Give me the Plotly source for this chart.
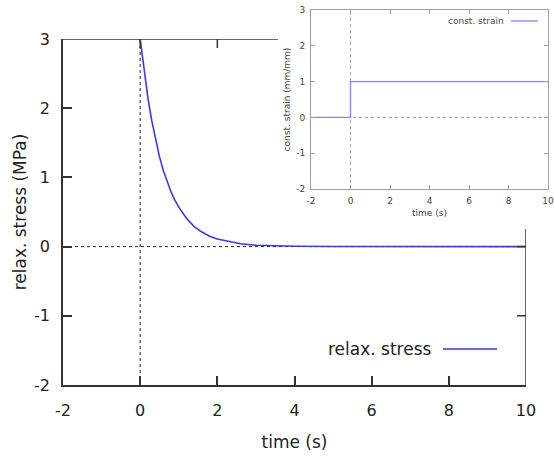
import plotly.graph_objects as go

# ---- data ----
t_stress = [0, 0.1, 0.2, 0.3, 0.4, 0.5, 0.6, 0.7, 0.8, 0.9, 1.0, 1.2, 1.4, 1.6,
            1.8, 2.0, 2.3, 2.6, 3.0, 3.5, 4.0, 5.0, 6.0, 8.0, 10.0]
relax_stress = [3.00, 2.54, 2.15, 1.82, 1.54, 1.30, 1.10, 0.93, 0.79, 0.67, 0.57,
                0.41, 0.29, 0.21, 0.15, 0.11, 0.07, 0.04, 0.02, 0.01, 0.005,
                0.001, 0.0, 0.0, 0.0]
t_strain = [-2, 0, 0, 10]
const_strain = [0, 0, 1, 1]

x_ticks = [-2, 0, 2, 4, 6, 8, 10]
y_ticks = [-2, -1, 0, 1, 2, 3]
x_ticktext = ["-2", "0", "2", "4", "6", "8", "10"]
y_ticktext = ["-2", "-1", "0", "1", "2", "3"]
x_range = [-2, 10]
y_range = [-2, 3]

W, H = 554, 459
FONT = "DejaVu Sans"
MAIN_BLUE = "#3a3ae2"
INSET_BLUE = "#8a8af5"
AX = "#333333"
GRAY = "#a0a0a0"

# main plot box in pixels
mx0, mx1, my0, my1 = 63, 526, 39, 385
# inset plot box
ix0, ix1, iy0, iy1 = 311, 548, 10, 189

fig = go.Figure()
fig.add_trace(go.Scatter(x=t_stress, y=relax_stress, mode="lines",
                         line=dict(color=MAIN_BLUE, width=1.6),
                         name="relax. stress", xaxis="x", yaxis="y",
                         showlegend=False))
fig.add_trace(go.Scatter(x=t_strain, y=const_strain, mode="lines",
                         line=dict(color=INSET_BLUE, width=1.4),
                         name="const. strain", xaxis="x2", yaxis="y2",
                         showlegend=False))

# where the inset's white panel starts (in main data units)
cut_x = x_range[0] + (278 - mx0) / (mx1 - mx0) * (x_range[1] - x_range[0])
cut_y = y_range[1] - (229 - my0) / (my1 - my0) * (y_range[1] - y_range[0])

shapes = [
    dict(type="line", xref="x", yref="y", x0=0, x1=0, y0=y_range[0], y1=y_range[1],
         line=dict(color="#222222", width=1, dash="dot"), layer="below"),
    dict(type="line", xref="x", yref="y", x0=x_range[0], x1=x_range[1], y0=0, y1=0,
         line=dict(color="#222222", width=1, dash="dot"), layer="below"),
    dict(type="line", xref="x2", yref="y2", x0=0, x1=0, y0=y_range[0], y1=y_range[1],
         line=dict(color=GRAY, width=1, dash="dot"), layer="below"),
    dict(type="line", xref="x2", yref="y2", x0=x_range[0], x1=x_range[1], y0=0, y1=0,
         line=dict(color=GRAY, width=1, dash="dot"), layer="below"),
    dict(type="line", xref="x", yref="y", x0=x_range[0], x1=cut_x, y0=y_range[1], y1=y_range[1],
         line=dict(color=AX, width=1.5)),
    dict(type="line", xref="x", yref="y", x0=x_range[1], x1=x_range[1], y0=y_range[0], y1=cut_y,
         line=dict(color=AX, width=1.5)),
]
for tx in x_ticks:
    if x_range[0] < tx < cut_x:
        shapes.append(dict(type="line", xref="x", yref="y", ysizemode="pixel",
                           yanchor=y_range[1], x0=tx, x1=tx, y0=0, y1=-9,
                           line=dict(color=AX, width=1.5)))
for ty in y_ticks:
    if y_range[0] < ty < cut_y:
        shapes.append(dict(type="line", xref="x", yref="y", xsizemode="pixel",
                           xanchor=x_range[1], y0=ty, y1=ty, x0=0, x1=-9,
                           line=dict(color=AX, width=1.5)))

shapes.append(dict(type="line", xref="paper", yref="paper",
                   x0=443 / W, x1=497 / W, y0=1 - 349 / H, y1=1 - 349 / H,
                   line=dict(color=MAIN_BLUE, width=1.6)))
shapes.append(dict(type="line", xref="paper", yref="paper",
                   x0=511 / W, x1=538 / W, y0=1 - 21 / H, y1=1 - 21 / H,
                   line=dict(color=INSET_BLUE, width=1.4)))

annotations = [
    dict(text="relax. stress", xref="paper", yref="paper", x=434 / W, y=1 - 349 / H,
         xanchor="right", yanchor="middle", showarrow=False,
         font=dict(family=FONT, size=17, color="#222222")),
    dict(text="const. strain", xref="paper", yref="paper", x=506 / W, y=1 - 21 / H,
         xanchor="right", yanchor="middle", showarrow=False,
         font=dict(family=FONT, size=9, color="#444444")),
]

common = dict(showgrid=False, zeroline=False, automargin=False)

fig.update_layout(
    width=W, height=H,
    margin=dict(l=0, r=0, t=0, b=0),
    paper_bgcolor="white", plot_bgcolor="white",
    font=dict(family=FONT, color="#222222"),
    showlegend=False,
    xaxis=dict(domain=[mx0 / W, mx1 / W], range=x_range, tickvals=x_ticks, ticktext=x_ticktext,
               ticks="inside", ticklen=9, tickwidth=1.5, tickcolor=AX,
               showline=True, linecolor=AX, linewidth=1.5, mirror=False, anchor="y",
               tickfont=dict(size=16, color="#222222"), ticklabelstandoff=10,
               title=dict(text="time (s)", font=dict(size=17, color="#222222"), standoff=17),
               **common),
    yaxis=dict(domain=[1 - my1 / H, 1 - my0 / H], range=y_range, tickvals=y_ticks, ticktext=y_ticktext,
               ticks="inside", ticklen=9, tickwidth=1.5, tickcolor=AX,
               showline=True, linecolor=AX, linewidth=1.5, mirror=False, anchor="x",
               tickfont=dict(size=16, color="#222222"), ticklabelstandoff=8,
               title=dict(text="relax. stress (MPa)", font=dict(size=17, color="#222222"), standoff=3),
               **common),
    xaxis2=dict(domain=[ix0 / W, ix1 / W], range=x_range, tickvals=x_ticks, ticktext=x_ticktext,
                ticks="inside", ticklen=4, tickwidth=1, tickcolor=GRAY,
                showline=True, linecolor=GRAY, linewidth=1, mirror="ticks", anchor="y2",
                tickfont=dict(size=9, color="#444444"), ticklabelstandoff=3,
                title=dict(text="time (s)", font=dict(size=9, color="#444444"), standoff=4),
                **common),
    yaxis2=dict(domain=[1 - iy1 / H, 1 - iy0 / H], range=y_range, tickvals=y_ticks, ticktext=y_ticktext,
                ticks="inside", ticklen=4, tickwidth=1, tickcolor=GRAY,
                showline=True, linecolor=GRAY, linewidth=1, mirror="ticks", anchor="x2",
                tickfont=dict(size=9, color="#444444"), ticklabelstandoff=3,
                title=dict(text="const. strain (mm/mm)", font=dict(size=9, color="#444444"), standoff=4),
                **common),
    shapes=shapes,
    annotations=annotations,
)

fig.write_html("out.html", config={"displayModeBar": False},
               post_script="document.body.style.margin='0';document.body.style.padding='0';")
